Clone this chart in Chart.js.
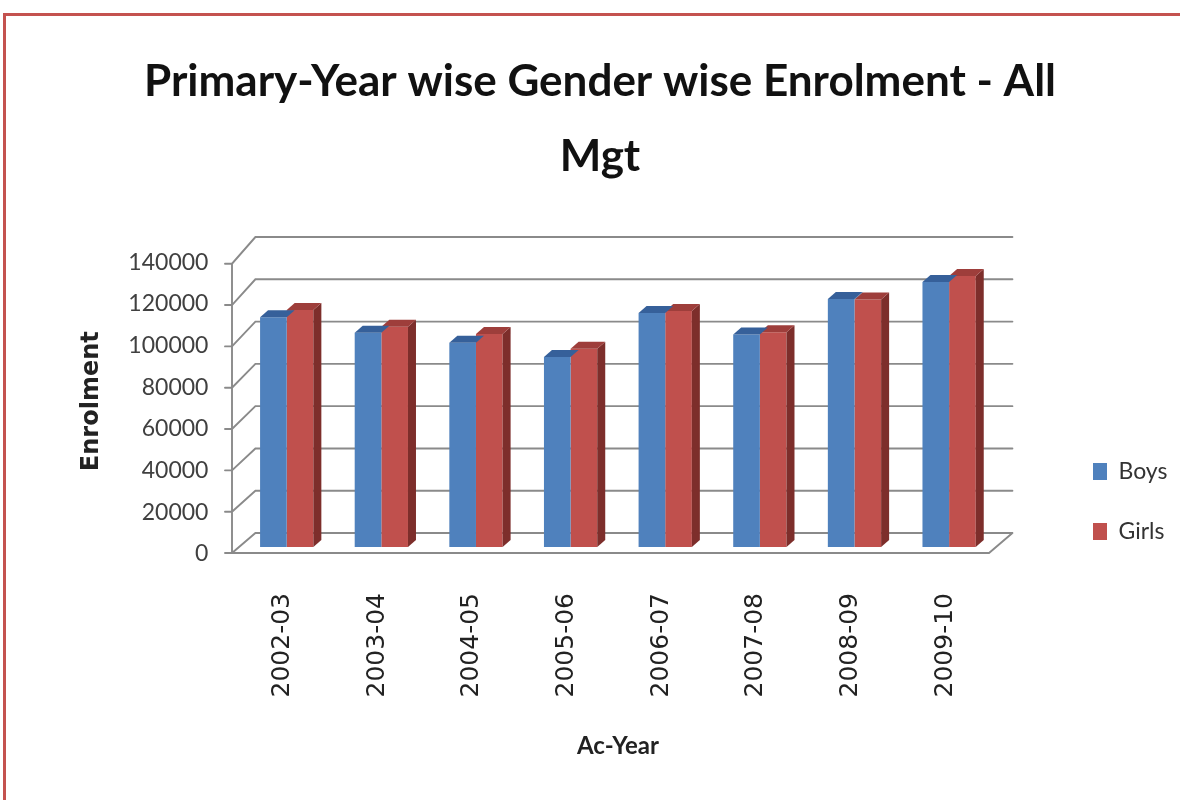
<!DOCTYPE html>
<html><head><meta charset="utf-8">
<script src="https://cdn.jsdelivr.net/npm/chart.js@4.4.1/dist/chart.umd.min.js"></script>
<style>
html,body{margin:0;padding:0;background:#fff;overflow:hidden;width:1180px;height:800px}
#frame{position:absolute;left:3px;top:13px;width:1200px;height:830px;border:3px solid #c4524f;box-sizing:border-box}
#wrap{position:absolute;left:0;top:0;width:1180px;height:800px}
</style></head><body>
<div id="frame"></div>
<div id="wrap"><canvas id="c" width="1180" height="800"></canvas></div>
<script>
// ---- data ----
const categories = ['2002-03','2003-04','2004-05','2005-06','2006-07','2007-08','2008-09','2009-10'];
const boys  = [110300, 102900, 98100, 91200, 112300, 102000, 119100, 127200];
const girls = [113800, 105800, 102300, 95200, 113300, 103100, 118800, 130100];
const seriesNames = ['Boys', 'Girls'];
const titleLines = ['Primary-Year wise Gender wise Enrolment - All', 'Mgt'];
const xTitle = 'Ac-Year';
const yTitle = 'Enrolment';
const yMin = 0, yMax = 140000, yStep = 20000;

// ---- style ----
const BLUE = '#4f81bd', RED = '#c0504d';
const TOPS = ['#36609a', '#9e3e3b'];
const SIDES = ['#34578a', '#7d2e2b'];
const DEPTH_X = 8, DEPTH_Y = -7;
const BACK_DX = 16, BACK_DY = -14, BACK_K = 0.015;
const FRONT_DX = -7.4, FRONT_DY = 6, FRONT_K = 0.008;
const LEGEND_X = 1093, LEGEND_Y = 460;

const threeD = {
  id: 'threeD',
  afterLayout(chart) {
    const lg = chart.legend;
    if (!lg) return;
    const p = lg.options.labels.padding;
    const dx = LEGEND_X - (lg.left + p);
    const dy = LEGEND_Y - (lg.top + p);
    lg.left += dx; lg.right += dx; lg.top += dy; lg.bottom += dy;
  },
  beforeDatasetsDraw(chart) {
    const {ctx, chartArea: ca, scales: {y}} = chart;
    const y0 = y.getPixelForValue(0);
    const back = v => { const p = y.getPixelForValue(v); return p + BACK_DY - (y0 - p) * BACK_K; };
    const front = v => { const p = y.getPixelForValue(v); return p + FRONT_DY + (y0 - p) * FRONT_K; };
    const fx = ca.left + FRONT_DX, bx = ca.left + BACK_DX;
    const rbx = ca.right + BACK_DX, rfx = ca.right + FRONT_DX;
    ctx.save();
    ctx.strokeStyle = '#8a8a8a';
    ctx.lineWidth = 1.9;
    ctx.lineCap = 'round';
    ctx.beginPath();
    y.ticks.forEach(t => {
      const yf = front(t.value), yb = back(t.value);
      ctx.moveTo(fx - 7, yf); ctx.lineTo(fx, yf);
      ctx.lineTo(bx, yb); ctx.lineTo(rbx, yb);
    });
    ctx.moveTo(fx, front(yMax)); ctx.lineTo(fx, front(yMin));
    ctx.moveTo(fx, front(yMin)); ctx.lineTo(rfx, front(yMin)); ctx.lineTo(rbx, back(yMin));
    ctx.stroke();
    ctx.restore();
  },
  afterDatasetDraw(chart, args) {
    const {ctx} = chart;
    const i = args.index;
    const next = i + 1 < chart.data.datasets.length ? chart.getDatasetMeta(i + 1).data : null;
    ctx.save();
    args.meta.data.forEach((el, j) => {
      const l = el.x - el.width / 2, r = el.x + el.width / 2, t = el.y, b = el.base;
      let sb = b;
      if (next && next[j]) sb = Math.min(b, next[j].y);
      if (sb > t) {
        ctx.fillStyle = SIDES[i];
        ctx.beginPath();
        ctx.moveTo(r, t); ctx.lineTo(r + DEPTH_X, t + DEPTH_Y);
        ctx.lineTo(r + DEPTH_X, sb + DEPTH_Y); ctx.lineTo(r, sb); ctx.closePath(); ctx.fill();
      }
      ctx.fillStyle = TOPS[i];
      ctx.beginPath();
      ctx.moveTo(l, t); ctx.lineTo(r, t); ctx.lineTo(r + DEPTH_X, t + DEPTH_Y);
      ctx.lineTo(l + DEPTH_X, t + DEPTH_Y); ctx.closePath(); ctx.fill();
    });
    ctx.restore();
  }
};

new Chart(document.getElementById('c'), {
  type: 'bar',
  data: {
    labels: categories,
    datasets: [
      {label: seriesNames[0], data: boys, backgroundColor: BLUE, borderWidth: 0},
      {label: seriesNames[1], data: girls, backgroundColor: RED, borderWidth: 0}
    ]
  },
  options: {
    responsive: false, animation: false, devicePixelRatio: 1,
    categoryPercentage: 0.563, barPercentage: 1.0,
    layout: {padding: {left: 82.1, right: 62.1, top: 0, bottom: 0}},
    plugins: {
      title: {display: true, text: titleLines, color: '#111',
        font: {family: 'Lato', size: 44, weight: 'bold', lineHeight: '75px'},
        padding: {top: 44.3, bottom: 61.1}},
      legend: {position: 'right', align: 'start',
        labels: {boxWidth: 14, boxHeight: 17, padding: 37, color: '#333',
          font: {family: 'Lato', size: 23}}},
      tooltip: {enabled: false}
    },
    scales: {
      x: {
        grid: {display: false, drawTicks: false}, border: {display: false},
        ticks: {maxRotation: 90, minRotation: 90, autoSkip: false, padding: 46, labelOffset: -4,
          color: '#222', font: {family: 'DejaVu Sans', size: 25}},
        title: {display: true, text: xTitle, color: '#222',
          font: {family: 'Lato', size: 24, weight: 'bold'}, padding: {top: 0, bottom: 39}},
        afterFit(s) { s.height = 253; }
      },
      y: {
        min: yMin, max: yMax,
        grid: {display: false, drawTicks: false}, border: {display: false},
        ticks: {stepSize: yStep, padding: 31, labelOffset: 7, color: '#404040',
          font: {family: 'Lato', size: 23}, callback: v => String(v)},
        title: {display: true, text: yTitle, color: '#222',
          font: {family: 'DejaVu Sans', size: 24, weight: 'bold'}, padding: {top: -4.5, bottom: 0}},
        afterFit(s) { s.width = 157.3; }
      }
    }
  },
  plugins: [threeD]
});
</script>
</body></html>
